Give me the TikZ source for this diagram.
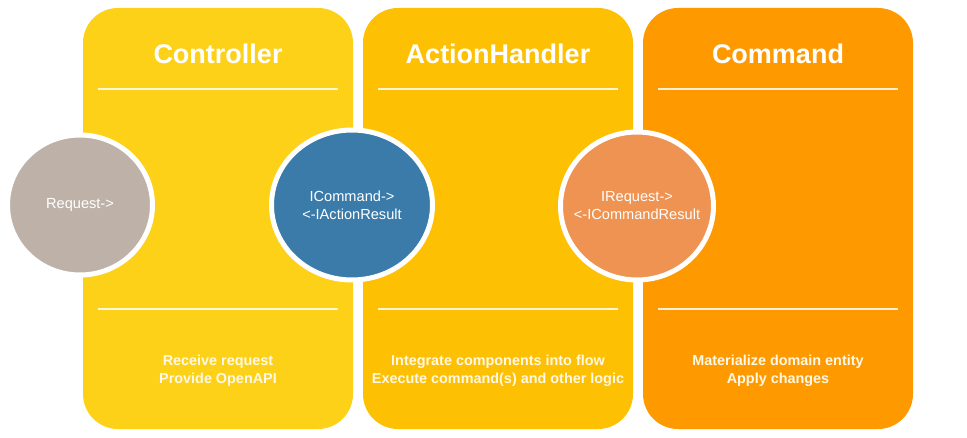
\documentclass[tikz,border=0pt]{standalone}
\usepackage{fontspec}
\setmainfont{Liberation Sans}
\usetikzlibrary{shapes.geometric,calc}

\definecolor{ctrlyellow}{HTML}{FCD118}
\definecolor{handlergold}{HTML}{FEC002}
\definecolor{cmdorange}{HTML}{FE9A00}
\definecolor{reqgray}{HTML}{BEB2A8}
\definecolor{ifaceblue}{HTML}{3A7BAA}
\definecolor{ifaceorange}{HTML}{EE9351}
\definecolor{softwhite}{HTML}{FFF8E6}

\tikzset{
  panel/.style={rounded corners=35pt, minimum width=270pt, minimum height=421pt,
    inner sep=0pt, draw=none},
  title/.style={text=white, font=\fontsize{27}{32}\selectfont\bfseries},
  duty/.style={text=softwhite, align=center, font=\fontsize{14.4}{18}\selectfont\bfseries},
  rule/.style={draw=white, draw opacity=0.85, line width=2pt},
  % the size of each bubble is fixed by its minimum width/height, not by its text
  iface/.style={ellipse, draw=white, line width=5pt, inner xsep=-30pt, inner ysep=-10pt,
    align=center, text=white, font=\fontsize{14.6}{18}\selectfont},
}

\begin{document}
\begin{tikzpicture}[x=1pt, y=-1pt]
  % page area
  \path[fill=white] (0,0) rectangle (967,438);

  % the three layer panels
  \node[panel, fill=ctrlyellow]  (p1) at (218,218.5) {};
  \node[panel, fill=handlergold] (p2) at (498,218.5) {};
  \node[panel, fill=cmdorange]   (p3) at (778,218.5) {};

  % panel titles
  \node[title] (t1) at (218,54) {Controller};
  \node[title] (t2) at (498,54) {ActionHandler};
  \node[title] (t3) at (778,54) {Command};

  % separator rules in each panel
  \foreach \p in {p1,p2,p3} {
    \draw[rule] ($(\p.north west)+(15,81)$) -- ($(\p.north east)+(-15,81)$);
    \draw[rule] ($(\p.north west)+(15,301)$) -- ($(\p.north east)+(-15,301)$);
  }

  % responsibilities of each layer
  \node[duty] (d1) at (218,371) {Receive request\\Provide OpenAPI};
  \node[duty] (d2) at (498,371) {Integrate components into flow\\Execute command(s) and other logic};
  \node[duty] (d3) at (778,371) {Materialize domain entity\\Apply changes};

  % messages passed between the layers
  \node[iface, fill=reqgray, minimum width=145pt, minimum height=140pt] (req) at (80,205) {Request->};
  \node[iface, fill=ifaceblue, minimum width=161pt, minimum height=150pt] (cmd) at (352,205) {ICommand->\\<-IActionResult};
  \node[iface, fill=ifaceorange, minimum width=153pt, minimum height=148pt] (irq) at (637,206) {IRequest->\\<-ICommandResult};
\end{tikzpicture}
\end{document}
